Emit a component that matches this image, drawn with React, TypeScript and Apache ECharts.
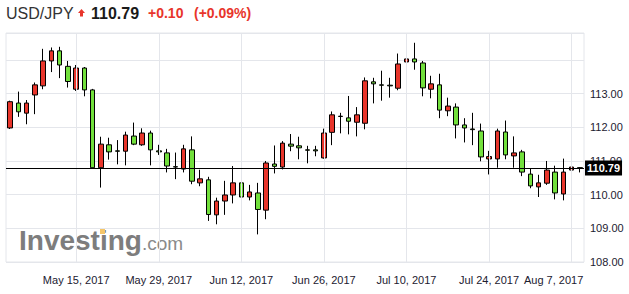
import React, { useEffect, useRef } from "react";
import * as echarts from "echarts";

const dates = [
  "May 3, 2017", "May 4, 2017", "May 5, 2017",
  "May 8, 2017", "May 9, 2017", "May 10, 2017", "May 11, 2017", "May 12, 2017",
  "May 15, 2017", "May 16, 2017", "May 17, 2017", "May 18, 2017", "May 19, 2017",
  "May 22, 2017", "May 23, 2017", "May 24, 2017", "May 25, 2017", "May 26, 2017",
  "May 29, 2017", "May 30, 2017", "May 31, 2017", "Jun 1, 2017", "Jun 2, 2017",
  "Jun 5, 2017", "Jun 6, 2017", "Jun 7, 2017", "Jun 8, 2017", "Jun 9, 2017",
  "Jun 12, 2017", "Jun 13, 2017", "Jun 14, 2017", "Jun 15, 2017", "Jun 16, 2017",
  "Jun 19, 2017", "Jun 20, 2017", "Jun 21, 2017", "Jun 22, 2017", "Jun 23, 2017",
  "Jun 26, 2017", "Jun 27, 2017", "Jun 28, 2017", "Jun 29, 2017", "Jun 30, 2017",
  "Jul 3, 2017", "Jul 4, 2017", "Jul 5, 2017", "Jul 6, 2017", "Jul 7, 2017",
  "Jul 10, 2017", "Jul 11, 2017", "Jul 12, 2017", "Jul 13, 2017", "Jul 14, 2017",
  "Jul 17, 2017", "Jul 18, 2017", "Jul 19, 2017", "Jul 20, 2017", "Jul 21, 2017",
  "Jul 24, 2017", "Jul 25, 2017", "Jul 26, 2017", "Jul 27, 2017", "Jul 28, 2017",
  "Jul 31, 2017", "Aug 1, 2017", "Aug 2, 2017", "Aug 3, 2017", "Aug 4, 2017",
  "Aug 7, 2017", "Aug 8, 2017",
];

const opens = [
  111.98, 112.72, 112.42, 112.96, 113.23, 113.97, 114.27, 113.81, 113.13, 113.76,
  113.11, 110.8, 111.48, 111.3, 111.29, 111.74, 111.48, 111.83, 111.3, 111.24,
  110.83, 110.76, 111.33, 110.35, 110.44, 109.4, 109.81, 109.99, 110.35, 109.93,
  110.05, 109.54, 110.91, 110.82, 111.5, 111.45, 111.33, 111.33, 111.09, 111.85,
  112.33, 112.28, 112.15, 112.12, 113.35, 113.26, 113.25, 113.16, 113.94, 114.03,
  113.91, 113.13, 113.26, 112.49, 112.6, 112.07, 111.95, 111.89, 111.06, 111.06,
  111.86, 111.15, 111.27, 110.61, 110.23, 110.34, 110.67, 110.02, 110.73, 110.8,
];
const closes = [
  112.76, 112.46, 112.72, 113.26, 113.97, 114.27, 113.85, 113.36, 113.76, 113.11,
  110.8, 111.5, 111.27, 111.29, 111.77, 111.5, 111.83, 111.33, 111.27, 110.85,
  110.82, 111.36, 110.4, 110.47, 109.41, 109.81, 109.99, 110.35, 109.93, 110.08,
  109.56, 110.94, 110.84, 111.53, 111.44, 111.39, 111.32, 111.3, 111.83, 112.37,
  112.32, 112.18, 112.37, 113.38, 113.29, 113.25, 113.23, 113.88, 114.03, 113.94,
  113.17, 113.29, 112.51, 112.63, 112.07, 111.98, 111.93, 111.12, 111.13, 111.89,
  111.18, 111.24, 110.67, 110.26, 110.35, 110.73, 110.05, 110.67, 110.82, 110.79,
];
const lows = [
  111.95, 112.31, 112.09, 112.39, 113.13, 113.64, 113.46, 113.18, 113.08, 112.92,
  110.8, 110.21, 111.04, 110.9, 110.87, 111.47, 111.45, 110.87, 111.18, 110.66,
  110.46, 110.66, 110.31, 110.25, 109.22, 109.12, 109.4, 109.74, 109.63, 109.83,
  108.82, 109.27, 110.63, 110.75, 111.29, 111.05, 110.93, 111.14, 111.07, 111.47,
  111.82, 111.79, 111.73, 111.94, 112.71, 112.79, 112.88, 113.1, 113.84, 113.71,
  112.92, 112.86, 112.27, 112.33, 111.67, 111.55, 111.47, 110.99, 110.6, 110.8,
  111.05, 110.8, 110.55, 110.19, 109.93, 110.29, 109.86, 109.83, 110.72, 110.66,
];
const highs = [
  112.79, 113.06, 112.81, 113.33, 114.33, 114.37, 114.39, 113.97, 113.85, 113.79,
  113.14, 111.72, 111.69, 111.62, 111.87, 112.14, 111.97, 111.9, 111.48, 111.36,
  111.25, 111.48, 111.73, 110.74, 110.53, 109.91, 110.41, 110.85, 110.44, 110.29,
  110.35, 111.0, 111.46, 111.59, 111.8, 111.72, 111.45, 111.45, 111.96, 112.47,
  112.43, 112.93, 112.6, 113.48, 113.47, 113.68, 113.47, 114.19, 114.31, 114.51,
  113.97, 113.53, 113.59, 112.88, 112.71, 112.27, 112.43, 112.11, 111.3, 111.96,
  112.2, 111.73, 111.33, 110.78, 110.59, 111.0, 110.86, 111.07, 110.85, 110.81,
];

const xTickLabels = [
  "May 15, 2017", "May 29, 2017", "Jun 12, 2017", "Jun 26, 2017",
  "Jul 10, 2017", "Jul 24, 2017", "Aug 7, 2017",
];
const yTicks = [108, 109, 110, 111, 112, 113];

const symbolName = "USD/JPY";
const lastPrice = 110.79;
const changeText = "+0.10";
const changePctText = "(+0.09%)";

const UP_COLOR = "#e8352b";
const DOWN_COLOR = "#72e03c";
const GRID_COLOR = "#e4e6eb";
const FONT = "Arial, 'Liberation Sans', sans-serif";

export default function App() {
  const ref = useRef<HTMLDivElement>(null);

  useEffect(() => {
    document.body.style.margin = "0";
    if (!ref.current) return;
    const chart = echarts.init(ref.current, undefined, { renderer: "svg" });

    const candleData = dates.map((_, i) => [opens[i], closes[i], lows[i], highs[i]]);
    const lastLabel = xTickLabels[xTickLabels.length - 1];

    chart.setOption({
      animation: false,
      backgroundColor: "#ffffff",
      textStyle: { fontFamily: FONT },
      grid: {
        left: 6,
        right: 45,
        top: 33,
        bottom: 32,
        show: true,
        borderColor: GRID_COLOR,
        borderWidth: 1,
      },
      graphic: [
        {
          type: "text",
          left: 6,
          top: 5,
          style: { text: symbolName, fill: "#333333", font: `16px ${FONT}` },
        },
        {
          type: "polygon",
          shape: {
            points: [
              [81.5, 9],
              [85, 13],
              [83, 13],
              [83, 16.5],
              [80, 16.5],
              [80, 13],
              [78, 13],
            ],
          },
          style: { fill: UP_COLOR },
        },
        {
          type: "text",
          left: 91,
          top: 5,
          style: { text: lastPrice.toFixed(2), fill: "#1a1a1a", font: `bold 16px ${FONT}` },
        },
        {
          type: "text",
          left: 148,
          top: 6,
          style: { text: changeText, fill: UP_COLOR, font: `bold 14px ${FONT}` },
        },
        {
          type: "text",
          left: 194,
          top: 6,
          style: { text: changePctText, fill: UP_COLOR, font: `bold 14px ${FONT}` },
        },
        {
          type: "text",
          left: 19,
          top: 226,
          z: 1,
          style: {
            text: "{a|Investing}{b|.com}",
            rich: {
              a: { fill: "#7d7d7d", font: `bold 28px ${FONT}` },
              b: { fill: "#8a8a8a", font: `19px ${FONT}`, padding: [6, 0, 0, 0] },
            },
          },
        },
        {
          type: "rect",
          shape: { x: 100, y: 229, width: 5, height: 5 },
          style: { fill: "#f5c66a" },
          z: 2,
        },
      ],
      xAxis: {
        type: "category",
        data: dates,
        boundaryGap: true,
        axisLine: { show: false },
        axisTick: { show: false },
        splitLine: { show: false },
        axisLabel: {
          interval: (_idx: number, value: string) => xTickLabels.includes(value),
          formatter: (value: string) => (value === lastLabel ? `{e|${value}}` : value),
          rich: { e: { padding: [0, 36, 0, 0] } },
          color: "#1c2030",
          fontSize: 11,
          fontFamily: FONT,
          margin: 12,
        },
      },
      yAxis: {
        type: "value",
        position: "right",
        min: 108,
        max: 114.8,
        interval: 1,
        axisLine: { show: false },
        axisTick: { show: false },
        splitLine: { show: true, lineStyle: { color: GRID_COLOR, width: 1 } },
        axisLabel: {
          color: "#1c2030",
          fontSize: 11,
          fontFamily: FONT,
          margin: 6,
          formatter: (v: number) => (yTicks.includes(Math.round(v * 100) / 100) ? v.toFixed(2) : ""),
        },
      },
      series: [
        {
          type: "line",
          data: [],
          z: 1,
          silent: true,
          markLine: {
            silent: true,
            symbol: ["none", "none"],
            label: { show: false },
            lineStyle: { color: GRID_COLOR, width: 1, type: "solid" },
            data: xTickLabels.map((d) => ({ xAxis: d })),
          },
        },
        {
          type: "candlestick",
          z: 3,
          data: candleData,
          barWidth: 5,
          itemStyle: {
            color: UP_COLOR,
            color0: DOWN_COLOR,
            borderColor: "#000000",
            borderColor0: "#000000",
            borderWidth: 1,
          },
          markLine: {
            silent: true,
            symbol: ["none", "none"],
            lineStyle: { color: "#000000", width: 1, type: "solid" },
            label: {
              show: true,
              position: "end",
              distance: 1,
              formatter: (p: any) => Number(p.value).toFixed(2),
              backgroundColor: "#000000",
              color: "#ffffff",
              fontWeight: "bold",
              fontSize: 11,
              fontFamily: FONT,
              padding: [2, 2, 2, 2],
            },
            data: [{ yAxis: lastPrice }],
          },
        },
      ],
    });

    return () => chart.dispose();
  }, []);

  return <div ref={ref} style={{ width: 629, height: 294 }} />;
}
